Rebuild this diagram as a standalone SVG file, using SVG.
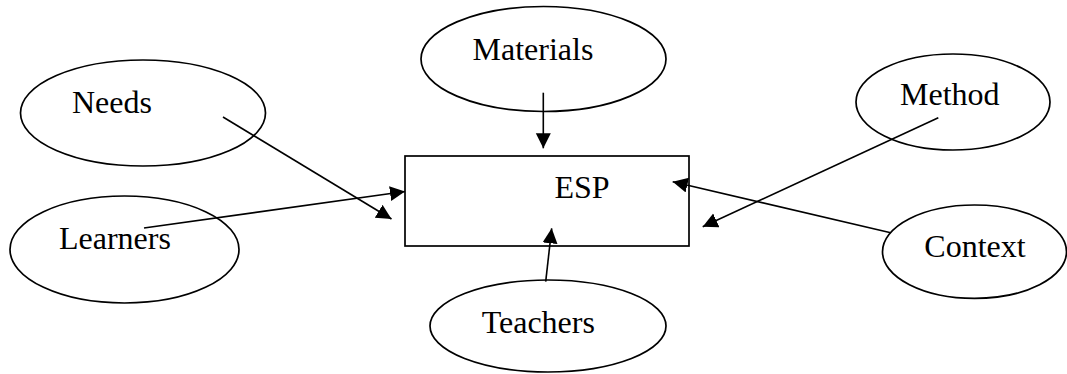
<svg xmlns="http://www.w3.org/2000/svg" width="1067" height="374" viewBox="0 0 1067 374">
<style>
.n{fill:#fff;stroke:#000;stroke-width:1.7}
.t{font-family:"Liberation Serif","Times New Roman",serif;font-size:32px;fill:#000}
.c{stroke:#000;stroke-width:1.6;fill:none;marker-end:url(#ah)}
</style>
<defs>
<marker id="ah" markerUnits="userSpaceOnUse" markerWidth="16" markerHeight="16" refX="15" refY="7.5" orient="auto">
<path d="M0,0 L15,7.5 L0,15 z" fill="#000"/>
</marker>
</defs>
<rect width="1067" height="374" fill="#fff"/>
<g id="materials"><ellipse class="n" cx="543.5" cy="59" rx="122.5" ry="52.5"/><text class="t" x="472.5" y="60">Materials</text></g>
<g id="needs"><ellipse class="n" cx="143" cy="113" rx="122.5" ry="53"/><text class="t" x="72" y="113.3">Needs</text></g>
<g id="learners"><ellipse class="n" cx="124.5" cy="249.5" rx="114.5" ry="53.5"/><text class="t" x="59" y="249">Learners</text></g>
<g id="method"><ellipse class="n" cx="953" cy="102" rx="97" ry="48"/><text class="t" x="900" y="105">Method</text></g>
<g id="context"><ellipse class="n" cx="974.5" cy="251.7" rx="92" ry="46.7"/><text class="t" x="924.3" y="256.7">Context</text></g>
<g id="teachers"><ellipse class="n" cx="548" cy="326" rx="118" ry="46"/><text class="t" x="481.7" y="333.3">Teachers</text></g>
<g id="esp"><rect class="n" x="405" y="156" width="284" height="90"/><text class="t" x="554.5" y="198">ESP</text></g>
<g id="connectors">
<line class="c" x1="543.3" y1="92.7" x2="543.3" y2="148.3"/>
<line class="c" x1="223" y1="117" x2="391.5" y2="219"/>
<line class="c" x1="144" y1="228" x2="405" y2="191.5"/>
<line class="c" x1="545.7" y1="281.7" x2="551.7" y2="228.3"/>
<line class="c" x1="938.3" y1="117.7" x2="702.7" y2="226.7"/>
<line class="c" x1="890.7" y1="232.7" x2="672.7" y2="181.7"/>
</g>
</svg>
